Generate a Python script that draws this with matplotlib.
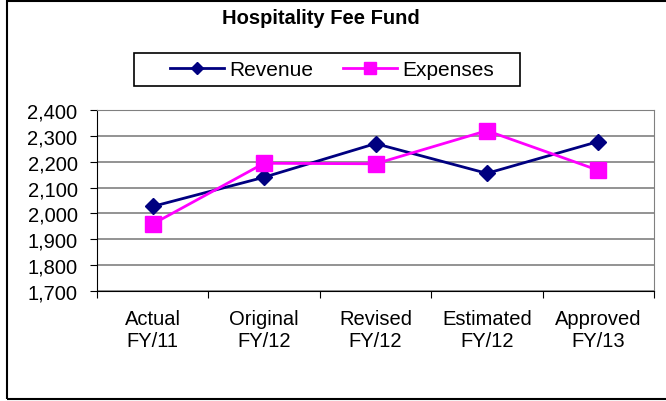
import matplotlib
matplotlib.use("Agg")
import matplotlib.pyplot as plt
from matplotlib.patches import Rectangle
from matplotlib.ticker import FuncFormatter

plt.rcParams["font.family"] = ["Liberation Sans", "DejaVu Sans"]

categories = ["Actual\nFY/11", "Original\nFY/12", "Revised\nFY/12", "Estimated\nFY/12", "Approved\nFY/13"]
revenue = [2027, 2140, 2270, 2155, 2278]
expenses = [1959, 2194, 2192, 2320, 2167]

fig = plt.figure(figsize=(6.66, 4.02), dpi=100)
ax = fig.add_axes([97 / 666, 110 / 402, 557 / 666, 181 / 402])

x = range(len(categories))
ax.plot(x, revenue, "-D", color="#000080", lw=2, ms=8, label="Revenue")
ax.plot(x, expenses, "-s", color="#FF00FF", lw=2, ms=11, label="Expenses")

ax.set_ylim(1700, 2400)
ax.set_yticks(range(1700, 2401, 100))
ax.yaxis.set_major_formatter(FuncFormatter(lambda v, p: f"{int(v):,}"))
ax.set_xlim(-0.5, len(categories) - 0.5)
ax.set_xticks([i - 0.5 for i in range(len(categories) + 1)])
ax.set_xticklabels([])
ax.set_xticks(list(x), minor=True)
ax.set_xticklabels(categories, minor=True)
ax.tick_params(axis="x", which="minor", length=0, pad=13, labelsize=14.5)
ax.tick_params(axis="x", which="major", length=5, color="black")
ax.tick_params(axis="y", length=5, pad=9, labelsize=14.5)
ax.grid(axis="y", color="#808080", lw=1.2)
ax.set_axisbelow(True)
for s in ["top", "right"]:
    ax.spines[s].set_color("#808080")
for s in ["left", "bottom"]:
    ax.spines[s].set_color("black")

fig.text(321 / 666, 1 - 18 / 402, "Hospitality Fee Fund", ha="center", va="center",
         fontsize=14.5, fontweight="bold")

# legend box is wider than matplotlib's own frame, so draw it by hand
leg = fig.legend(loc="center", bbox_to_anchor=(332 / 666, 1 - 71 / 402), ncol=2,
                 fontsize=15, frameon=False, markerscale=0.75,
                 handlelength=2.6, columnspacing=1.4, handletextpad=0.25)
fig.patches.append(Rectangle((134 / 666, 1 - 87 / 402), 386 / 666, 33 / 402, transform=fig.transFigure,
                             fill=False, edgecolor="black", lw=1.2))

fig.patches.append(Rectangle((7 / 666, 2 / 402), 670 / 666, 398 / 402, transform=fig.transFigure,
                             fill=False, edgecolor="black", lw=1.5))

fig.savefig("out.png", dpi=100)
